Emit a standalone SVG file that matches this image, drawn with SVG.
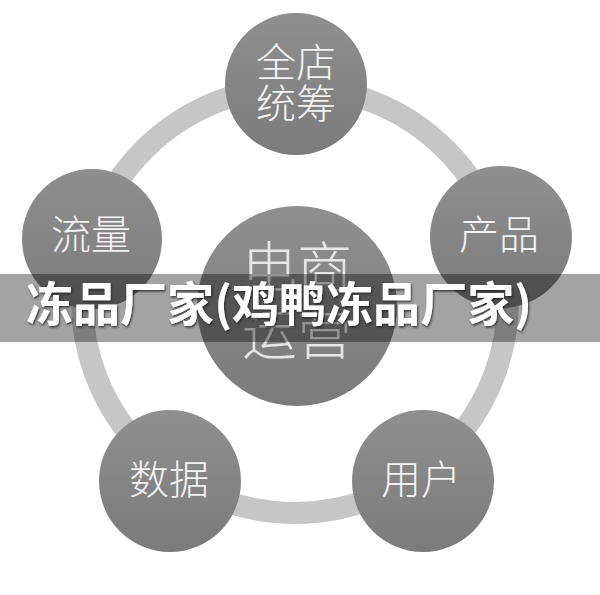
<svg xmlns="http://www.w3.org/2000/svg" width="600" height="595" viewBox="0 0 600 595">
<defs>
<linearGradient id="g" x1="0" y1="0" x2="0" y2="1">
<stop offset="0" stop-color="#8f8f8f"/>
<stop offset="1" stop-color="#7b7b7b"/>
</linearGradient>
<filter id="sh" x="-5%" y="-20%" width="110%" height="140%">
<feDropShadow dx="1" dy="1.5" stdDeviation="1.2" flood-color="#222" flood-opacity="0.85"/>
</filter>
<style>
.n{fill:url(#g);}
.lb{font-family:"Noto Sans CJK SC","Noto Sans",sans-serif;font-weight:300;font-size:40px;fill:#f2f2f2;text-anchor:middle;}
.cb{font-family:"Noto Sans CJK SC","Noto Sans",sans-serif;font-weight:300;font-size:55px;fill:#e6e6e6;text-anchor:middle;}
.t{font-family:"Noto Sans CJK SC","Noto Sans",sans-serif;font-weight:700;font-size:47px;fill:#ffffff;}
</style>
</defs>
<rect width="600" height="595" fill="#ffffff"/>
<g id="connectors">
<circle cx="295" cy="300" r="213" fill="none" stroke="#c6c6c6" stroke-width="22"/>
</g>
<g id="node-top">
<circle class="n" cx="296" cy="84" r="71"/>
<text class="lb" x="296" y="77">全店</text>
<text class="lb" x="296" y="118">统筹</text>
</g>
<g id="node-right">
<circle class="n" cx="501" cy="237" r="71"/>
<text class="lb" x="499" y="249">产品</text>
</g>
<g id="node-bottom-right">
<circle class="n" cx="423" cy="481" r="71"/>
<text class="lb" x="421" y="494">用户</text>
</g>
<g id="node-bottom-left">
<circle class="n" cx="170" cy="481" r="71"/>
<text class="lb" x="169" y="494">数据</text>
</g>
<g id="node-left">
<circle class="n" cx="92" cy="239" r="70"/>
<text class="lb" x="91" y="249">流量</text>
</g>
<g id="node-center">
<circle class="n" cx="297" cy="306" r="100"/>
<text class="cb" x="297" y="287">电商</text>
<text class="cb" x="297" y="354">运营</text>
</g>
<g id="banner">
<rect x="0" y="274" width="600" height="68" fill="#000000" fill-opacity="0.36"/>
<text class="t" x="26" y="321" textLength="506" lengthAdjust="spacing" filter="url(#sh)">冻品厂家(鸡鸭冻品厂家)</text>
</g>
</svg>
